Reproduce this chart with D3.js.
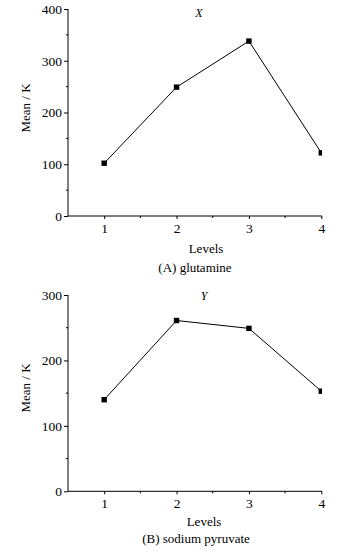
<!DOCTYPE html>
<html><head><meta charset="utf-8">
<script src="https://cdn.jsdelivr.net/npm/d3@7"></script>
<style>body{margin:0;background:#fff}svg{display:block}</style>
</head><body>
<svg id="c" width="361" height="553" font-family="'Times New Roman','Liberation Serif',serif"></svg>
<script>
const levels = [1, 2, 3, 4];
const glutamine = [102, 249, 338, 122];
const pyruvate = [140, 261, 249, 153];
const yTicksA = [0, 100, 200, 300, 400];
const yTicksB = [0, 100, 200, 300];
const FONT = "'Times New Roman','Liberation Serif',serif";

const svg = d3.select("#c");

function panel(o) {
  const g = svg.append("g");
  const x = d3.scaleLinear().domain([0.5, 4]).range([68, 321.3]);
  const y = d3.scaleLinear().domain([0, o.ymax]).range([o.y0, o.y1]);
  const clipId = "clip" + o.id;
  svg.append("defs").append("clipPath").attr("id", clipId)
    .append("rect").attr("x", 60).attr("y", o.y1 - 10).attr("width", 322 - 60).attr("height", o.y0 - o.y1 + 20);

  const minorY = d3.range(50, o.ymax, 100);
  g.selectAll(".my").data(minorY).join("line")
    .attr("x1", 66).attr("x2", 68).attr("y1", d => y(d)).attr("y2", d => y(d))
    .attr("stroke", "#000").attr("stroke-width", 1);
  g.selectAll(".mx").data([1.5, 2.5, 3.5]).join("line")
    .attr("x1", d => x(d)).attr("x2", d => x(d)).attr("y1", o.y0).attr("y2", o.y0 + 2)
    .attr("stroke", "#000").attr("stroke-width", 1);

  const ya = g.append("g").attr("transform", "translate(68,0)")
    .call(d3.axisLeft(y).tickValues(o.yTicks).tickSize(4).tickPadding(2).tickFormat(d3.format("d")));
  ya.select(".domain").attr("d", `M0,${o.y0}V${o.y1}`);
  const xa = g.append("g").attr("transform", `translate(0,${o.y0})`)
    .call(d3.axisBottom(x).tickValues(levels).tickSize(3).tickPadding(4).tickFormat(d3.format("d")));
  xa.select(".domain").attr("d", `M68,0H322`);
  g.selectAll(".tick text").attr("font-size", 13.5).attr("font-family", FONT);
  g.selectAll("g").attr("font-family", FONT);
  g.selectAll(".domain,.tick line").attr("stroke", "#000").attr("stroke-width", 1);

  const pts = levels.map((l, i) => [l, o.values[i]]);
  const pg = g.append("g").attr("clip-path", `url(#${clipId})`);
  pg.append("path").datum(pts)
    .attr("d", d3.line().x(d => x(d[0])).y(d => y(d[1])))
    .attr("fill", "none").attr("stroke", "#000").attr("stroke-width", 1);
  pg.selectAll("rect.m").data(pts).join("rect")
    .attr("x", d => x(d[0]) - 2.7).attr("y", d => y(d[1]) - 2.7)
    .attr("width", 5.4).attr("height", 5.4).attr("fill", "#000");

  g.append("text").attr("x", o.tx).attr("y", o.ty).attr("text-anchor", "middle")
    .attr("font-size", 12).attr("font-style", "italic").text(o.title);
  g.append("text").attr("transform", `translate(30,${o.ly}) rotate(-90)`)
    .attr("text-anchor", "middle").attr("font-size", 13).text("Mean / K");
  g.append("text").attr("x", o.lvx).attr("y", o.lvy).attr("text-anchor", "middle")
    .attr("font-size", 13).text("Levels");
  g.append("text").attr("x", o.cx).attr("y", o.cy).attr("text-anchor", "middle")
    .attr("font-size", 13).text(o.caption);
}

panel({id: "A", ymax: 400, y0: 216, y1: 9, yTicks: yTicksA, values: glutamine,
  title: "X", tx: 199, ty: 17, ly: 108, lvx: 206, lvy: 253, cx: 195, cy: 272, caption: "(A) glutamine"});
panel({id: "B", ymax: 300, y0: 491.3, y1: 295, yTicks: yTicksB, values: pyruvate,
  title: "Y", tx: 204, ty: 300, ly: 388, lvx: 204, lvy: 526, cx: 196, cy: 543, caption: "(B) sodium pyruvate"});
</script>
</body></html>
